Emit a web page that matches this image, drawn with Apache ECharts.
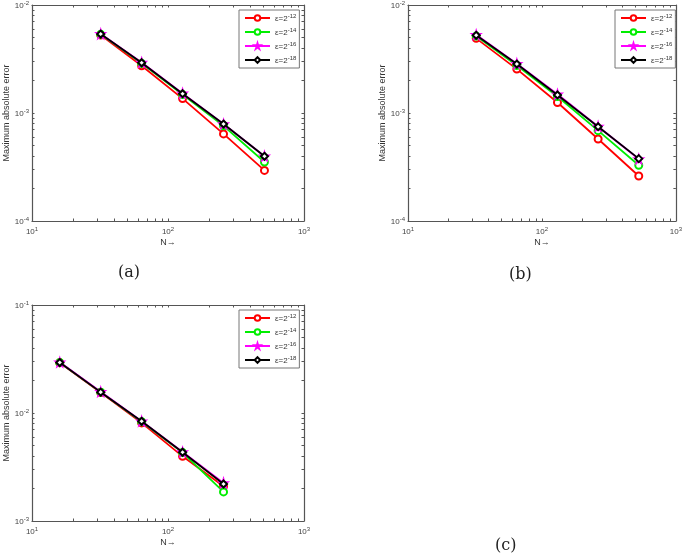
<!DOCTYPE html>
<html><head><meta charset="utf-8">
<script src="https://cdn.jsdelivr.net/npm/echarts@6/dist/echarts.min.js"></script>
<style>html,body{margin:0;padding:0;background:#fff}#c{width:685px;height:555px}</style>
</head><body><div id="c"></div>
<script>
// ---- data ----
const seriesNames = ['ε=2^-12', 'ε=2^-14', 'ε=2^-16', 'ε=2^-18'];
const legendExp = ['-12', '-14', '-16', '-18'];
const nA = [32, 64, 128, 256, 512];
const aRed     = [5.27e-3, 2.74e-3, 1.36e-3, 6.40e-4, 2.94e-4];
const aGreen   = [5.35e-3, 2.88e-3, 1.48e-3, 7.60e-4, 3.52e-4];
const aMagenta = [5.40e-3, 2.93e-3, 1.52e-3, 7.90e-4, 3.98e-4];
const aBlack   = [5.38e-3, 2.92e-3, 1.51e-3, 7.90e-4, 3.97e-4];
const nB = [32, 64, 128, 256, 512];
const bRed     = [4.91e-3, 2.55e-3, 1.25e-3, 5.74e-4, 2.61e-4];
const bGreen   = [5.15e-3, 2.75e-3, 1.42e-3, 6.86e-4, 3.28e-4];
const bMagenta = [5.30e-3, 2.86e-3, 1.49e-3, 7.50e-4, 3.75e-4];
const bBlack   = [5.24e-3, 2.84e-3, 1.47e-3, 7.47e-4, 3.78e-4];
const nC = [16, 32, 64, 128, 256];
const cRed     = [2.92e-2, 1.55e-2, 8.10e-3, 3.97e-3, 2.10e-3];
const cGreen   = [2.93e-2, 1.56e-2, 8.30e-3, 4.30e-3, 1.86e-3];
const cMagenta = [2.95e-2, 1.57e-2, 8.40e-3, 4.35e-3, 2.25e-3];
const cBlack   = [2.93e-2, 1.56e-2, 8.38e-3, 4.33e-3, 2.20e-3];
const xExpRange = [1, 3];          // 10^1 .. 10^3
const yExpRangeAB = [-4, -2];      // 10^-4 .. 10^-2
const yExpRangeC = [-3, -1];       // 10^-3 .. 10^-1
const captions = ['(a)', '(b)', '(c)'];

// ---- layout / style ----
const grids = [
  {left: 32, top: 5, width: 272, height: 216},
  {left: 408, top: 5, width: 270, height: 216},
  {left: 32, top: 305, width: 272, height: 216}
];
const legendPos = [{left: 239, top: 10}, {left: 615, top: 10}, {left: 239, top: 310}];
const captionPos = [{left: 113, top: 260}, {left: 504, top: 262}, {left: 490, top: 533}];
const colors = ['#ff0000', '#00ee00', '#ff00ff', '#000000'];
const STAR = 'path://M50,0 L61,35 L98,35 L68,57 L79,91 L50,70 L21,91 L32,57 L2,35 L39,35 Z';
const symbols = ['emptyCircle', 'emptyCircle', STAR, 'emptyDiamond'];
const symSizes = [7, 7, 9, 7];
const axisCol = '#555';

const panels = [
  {n: nA, ys: [aRed, aGreen, aMagenta, aBlack], yr: yExpRangeAB},
  {n: nB, ys: [bRed, bGreen, bMagenta, bBlack], yr: yExpRangeAB},
  {n: nC, ys: [cRed, cGreen, cMagenta, cBlack], yr: yExpRangeC}
];

function logTicks(lo, hi) {
  const t = [];
  for (let e = lo; e < hi; e++) {
    for (let k = 1; k < 10; k++) t.push(e + Math.log10(k));
  }
  t.push(hi);
  return t;
}
function majors(lo, hi) { const t = []; for (let e = lo; e <= hi; e++) t.push(e); return t; }
const supRich = {
  b: {fontSize: 8, color: '#444', fontFamily: 'Liberation Sans', verticalAlign: 'bottom', lineHeight: 10},
  s: {fontSize: 6, color: '#444', fontFamily: 'Liberation Sans', verticalAlign: 'top', lineHeight: 10}
};
const expFmt = v => '{b|10}{s|' + String(Math.round(v)) + '}';

const grid = [], xAxis = [], yAxis = [], series = [], legend = [], title = [];
grids.forEach(g => grid.push(Object.assign({}, g)));
grids.forEach(g => grid.push(Object.assign({}, g)));

panels.forEach((p, i) => {
  xAxis.push({type: 'log', gridIndex: i, min: Math.pow(10, xExpRange[0]), max: Math.pow(10, xExpRange[1]), show: false});
  yAxis.push({type: 'log', gridIndex: i, min: Math.pow(10, p.yr[0]), max: Math.pow(10, p.yr[1]), show: false});
});
const tickCommon = {inside: true, length: 2.5, lineStyle: {color: axisCol, width: 1}};
panels.forEach((p, i) => {
  xAxis.push({
    type: 'value', gridIndex: 3 + i, position: 'bottom', min: xExpRange[0], max: xExpRange[1],
    axisLine: {show: true, lineStyle: {color: axisCol, width: 1.2}},
    axisTick: Object.assign({customValues: logTicks(xExpRange[0], xExpRange[1])}, tickCommon),
    axisLabel: {customValues: majors(xExpRange[0], xExpRange[1]), formatter: expFmt, rich: supRich, margin: 5},
    splitLine: {show: false},
    name: 'N→', nameLocation: 'middle', nameGap: 17,
    nameTextStyle: {fontSize: 9, color: '#333', fontFamily: 'Liberation Sans'}
  });
});
panels.forEach((p, i) => {
  xAxis.push({
    type: 'value', gridIndex: 3 + i, position: 'top', min: xExpRange[0], max: xExpRange[1],
    axisLine: {show: true, lineStyle: {color: axisCol, width: 1.2}},
    axisTick: Object.assign({customValues: logTicks(xExpRange[0], xExpRange[1])}, tickCommon),
    axisLabel: {show: false}, splitLine: {show: false}
  });
});
panels.forEach((p, i) => {
  yAxis.push({
    type: 'value', gridIndex: 3 + i, position: 'left', min: p.yr[0], max: p.yr[1],
    axisLine: {show: true, lineStyle: {color: axisCol, width: 1.2}},
    axisTick: Object.assign({customValues: logTicks(p.yr[0], p.yr[1])}, tickCommon),
    axisLabel: {customValues: majors(p.yr[0], p.yr[1]), formatter: expFmt, rich: supRich, margin: 3},
    splitLine: {show: false},
    name: 'Maximum absolute error', nameLocation: 'middle', nameGap: 21, nameRotate: 90,
    nameTextStyle: {fontSize: 9, color: '#333', fontFamily: 'Liberation Sans'}
  });
});
panels.forEach((p, i) => {
  yAxis.push({
    type: 'value', gridIndex: 3 + i, position: 'right', min: p.yr[0], max: p.yr[1],
    axisLine: {show: true, lineStyle: {color: axisCol, width: 1.2}},
    axisTick: Object.assign({customValues: logTicks(p.yr[0], p.yr[1])}, tickCommon),
    axisLabel: {show: false}, splitLine: {show: false}
  });
});

panels.forEach((p, i) => {
  p.ys.forEach((vals, k) => {
    series.push({
      type: 'line', name: seriesNames[k], xAxisIndex: i, yAxisIndex: i,
      data: p.n.map((x, j) => [x, vals[j]]),
      symbol: symbols[k], symbolSize: symSizes[k], showAllSymbol: true,
      lineStyle: {color: colors[k], width: 1.8},
      itemStyle: {color: colors[k], borderColor: colors[k], borderWidth: 1.5},
      emphasis: {disabled: true}, animation: false, z: 3 + k
    });
  });
  legend.push(Object.assign({
    orient: 'vertical', data: seriesNames, itemWidth: 25, itemHeight: 7, itemGap: 4,
    padding: [3, 3, 3, 5], backgroundColor: '#fff', borderColor: '#777', borderWidth: 1,
    selectedMode: false,
    formatter: name => '{n|ε=2}{s|' + legendExp[seriesNames.indexOf(name)] + '}',
    textStyle: {rich: {
      n: {fontSize: 8, color: '#333', fontFamily: 'Liberation Sans', verticalAlign: 'bottom', lineHeight: 10},
      s: {fontSize: 6, color: '#333', fontFamily: 'Liberation Sans', verticalAlign: 'top', lineHeight: 10}
    }}
  }, legendPos[i]));
  title.push(Object.assign({
    text: captions[i],
    textStyle: {fontSize: 16, fontWeight: 'normal', color: '#222', fontFamily: 'DejaVu Serif'}
  }, captionPos[i]));
});

const chart = echarts.init(document.getElementById('c'), null, {renderer: 'canvas'});
chart.setOption({animation: false, backgroundColor: '#fff', title, grid, xAxis, yAxis, legend, series});
</script></body></html>
